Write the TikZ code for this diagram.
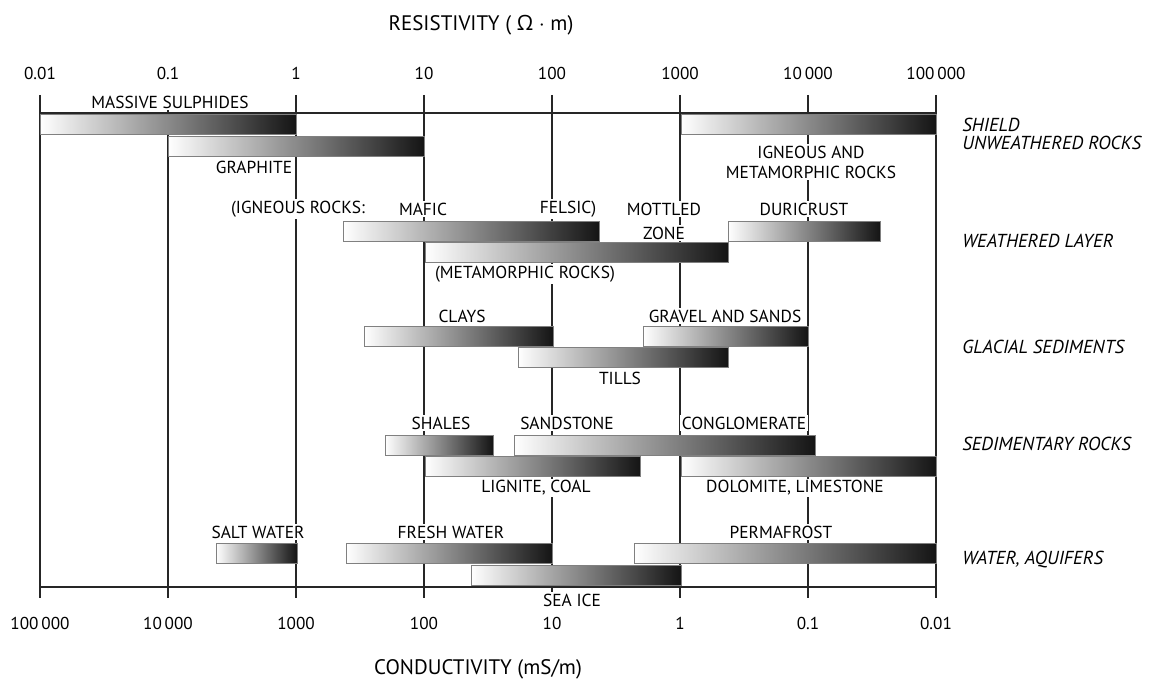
\documentclass[tikz,border=0pt]{standalone}
\usepackage{fontspec}
\setmainfont{PT Sans}
\newfontfamily\greekfont{Open Sans}
\usetikzlibrary{positioning}
\tikzstyle{rangebar} = [draw=black!50, line width=0.5pt, left color=white, right color=black!92]
\tikzstyle{grid}  = [line width=0.75pt, black!85]
\tikzstyle{lbl}   = [font=\fontsize{8.7}{10}\selectfont, fill=white, inner sep=0.8pt]
\tikzstyle{group} = [font=\fontsize{9.4}{10}\selectfont\itshape, anchor=west, inner sep=0pt]
\tikzstyle{num}   = [font=\fontsize{8.6}{10}\selectfont]
\tikzstyle{title} = [font=\fontsize{10.5}{12}\selectfont]

\begin{document}
\begin{tikzpicture}[x=0.5pt, y=-0.5pt]
\useasboundingbox (0,0) rectangle (1149,679);
\node[title] (resist) at (481,25) {RESISTIVITY ( {\greekfont Ω} $\cdot$ m)};
\node[title] (conduct) at (478,669) {CONDUCTIVITY (mS/m)};
% decade lines and scales
\foreach \d [count=\i from 0] in {0.01,0.1,1,10,100,1000,10\,000,100\,000} {
  \coordinate (t\i) at (40+128*\i,95);
  \coordinate (b\i) at (40+128*\i,598);
  \draw[grid] (t\i) -- (b\i);
  \node[num] (res\i) at (40+128*\i,73) {\d};
}
\foreach \d [count=\i from 0] in {100\,000,10\,000,1000,100,10,1,0.1,0.01}
  \node[num] (con\i) at (40+128*\i,623) {\d};
\coordinate (tl) at (40,113);  \coordinate (tr) at (936,113);
\coordinate (bl) at (40,587);  \coordinate (br) at (936,587);
\draw[grid] (tl) -- (tr);
\draw[grid] (bl) -- (br);
% ranges
\foreach \a/\b/\c in {40/296/115, 168/424/137, 681/936/115,
    343/599/221, 425/728/242, 728/880/221,
    364/553/326, 643/808/326, 518/728/347,
    385/493/435, 514/815/435, 425/640/456, 681/936/456,
    216/297/543, 346/552/543, 634/936/543, 471/681/565}
  \path[rangebar] (\a,\c) rectangle (\b,\c+20);
% labels
\node[lbl] (sulph) at (170,102) {MASSIVE SULPHIDES};
\node[lbl] (graph) at (254,167) {GRAPHITE};
\node[lbl, align=center] (ignmet) at (811,162) {IGNEOUS AND\\METAMORPHIC ROCKS};
\node[lbl] (igneous) at (298,209) {(IGNEOUS ROCKS:};
\node[lbl] (mafic) at (423,209) {MAFIC};
\node[lbl] (felsic) at (568,209) {FELSIC)};
\node[lbl] (mottled) at (664,209) {MOTTLED};
\node[lbl, below=3.9pt of mottled] (zone) {ZONE};
\node[lbl] (duri) at (804,209) {DURICRUST};
\node[lbl] (metam) at (525,274) {(METAMORPHIC ROCKS)};
\node[lbl] (clays) at (462,316) {CLAYS};
\node[lbl] (gravel) at (725,316) {GRAVEL AND SANDS};
\node[lbl] (tills) at (620,378) {TILLS};
\node[lbl] (shales) at (441,423) {SHALES};
\node[lbl] (sand) at (567,423) {SANDSTONE};
\node[lbl] (congl) at (744,423) {CONGLOMERATE};
\node[lbl] (lignite) at (536,488) {LIGNITE, COAL};
\node[lbl] (dolo) at (795,488) {DOLOMITE, LIMESTONE};
\node[lbl] (salt) at (258,532) {SALT WATER};
\node[lbl] (fresh) at (451,532) {FRESH WATER};
\node[lbl] (perma) at (781,532) {PERMAFROST};
\node[lbl] (seaice) at (572,600) {SEA ICE};
% groups
\node[group] (shield) at (962,125) {SHIELD};
\node[group] (unweath) at (962,143) {UNWEATHERED ROCKS};
\node[group] (weath) at (962,241) {WEATHERED LAYER};
\node[group] (glacial) at (962,347) {GLACIAL SEDIMENTS};
\node[group] (sedim) at (962,444) {SEDIMENTARY ROCKS};
\node[group] (water) at (962,560) {WATER, AQUIFERS};
\end{tikzpicture}
\end{document}
